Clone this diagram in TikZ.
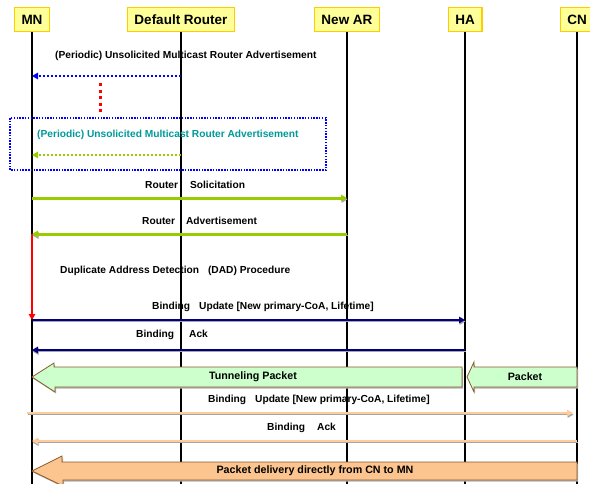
\documentclass[tikz,border=0pt]{standalone}
\usepackage{fontspec}
\setmainfont{Liberation Sans}
\usetikzlibrary{arrows.meta,shadows}
\definecolor{hdrfill}{HTML}{FFFF99}
\definecolor{hdrline}{HTML}{FFCC00}
\definecolor{ygreen}{HTML}{99CC00}
\definecolor{tealtxt}{HTML}{009999}
\definecolor{adblue}{HTML}{0000FF}
\definecolor{bunavy}{HTML}{000080}
\definecolor{peach}{HTML}{FFCC99}
\definecolor{bigpeach}{HTML}{FCC48E}
\definecolor{mint}{HTML}{CCFFCC}
\definecolor{brownline}{HTML}{8B5A2B}
\begin{document}
\begin{tikzpicture}[x=1pt,y=-1pt,
  hdr/.style={draw=hdrline,fill=hdrfill,line width=1.5pt,inner xsep=7pt,
    minimum height=24pt,font=\fontsize{13.5}{14}\selectfont\bfseries},
  life/.style={line width=2pt},
  msg/.style={anchor=west,inner sep=0pt,font=\fontsize{10.2}{11}\selectfont\bfseries},
  bigmsg/.style={inner sep=0pt,font=\fontsize{10.7}{12}\selectfont\bfseries},
  tip/.style={-{Triangle[length=6pt,width=6.5pt]}},
  shad/.style={preaction={draw=gray!70,transform canvas={shift={(0.5pt,-1.5pt)}}}},
  bigarrow/.style={draw=brownline,line width=0.8pt,
    drop shadow={shadow xshift=1pt,shadow yshift=-1.5pt,fill=gray!60,opacity=1}}]
\clip (0,0) rectangle (590,483);
\useasboundingbox (0,0) rectangle (590,483);

% headers and lifelines
\node[hdr] (mn)  at (32,19.5)  {MN};
\node[hdr] (dr)  at (181,19.5) {Default Router};
\node[hdr] (nar) at (347,19.5) {New AR};
\node[hdr] (ha)  at (465,19.5) {HA};
\node[hdr] (cn)  at (577,19.5) {CN};
\foreach \n in {mn,dr,nar,ha,cn}
  \draw[life] (\n.south) -- (\n |- 0,490);

% periodic advertisements
\node[msg] (ra1) at (55,56) {(Periodic) Unsolicited Multicast Router Advertisement};
\draw[adblue,line width=2.6pt,dash pattern=on 2.4pt off 1.6pt,tip] (dr |- 0,76) -- (mn |- 0,76);
\draw[red,line width=3pt,dash pattern=on 3pt off 3.5pt] (100,83) -- (100,113);
\draw[adblue,line width=1.5pt,dash pattern=on 1.5pt off 1.3pt] (10,118) rectangle (326,170);
\node[msg,text=tealtxt] (ra2) at (37,135) {(Periodic) Unsolicited Multicast Router Advertisement};
\draw[ygreen,line width=2.6pt,dash pattern=on 2.4pt off 1.6pt,tip] (dr |- 0,155) -- (mn |- 0,155);

% router discovery
\node[msg] (rs) at (145,185) {Router\hspace{12pt}Solicitation};
\draw[ygreen,line width=3pt,shad,tip] (mn |- 0,198) -- (nar |- 0,198);
\node[msg] (radv) at (142,221) {Router\hspace{11pt}Advertisement};
\draw[ygreen,line width=3pt,shad,tip] (nar |- 0,234) -- (mn |- 0,234);

% DAD
\draw[red,line width=1.8pt,tip] (mn |- 0,234) -- (mn |- 0,320);
\node[msg] (dad) at (60,271) {Duplicate Address Detection\hspace{9pt}(DAD) Procedure};

% binding with HA
\node[msg] (bu1) at (152,307) {Binding\hspace{9pt}Update [New primary-CoA, Lifetime]};
\draw[bunavy,line width=2.6pt,shad,tip] (mn |- 0,320) -- (ha |- 0,320);
\node[msg] (ba1) at (136,335) {Binding\hspace{15pt}Ack};
\draw[bunavy,line width=2.6pt,shad,tip] (ha |- 0,350) -- (mn |- 0,350);

% tunneled packets
\draw[bigarrow,fill=mint] (mn |- 0,377) -- ++(22,-14) -- ++(0,4) -- (462,367)
  -- (462,387) -- (55,387) -- (55,392) -- cycle;
\node[bigmsg] (tun) at (253,377) {Tunneling Packet};
\draw[bigarrow,fill=mint] (467,377) -- ++(7,-15) -- ++(0,5) -- (cn |- 0,367)
  -- (cn |- 0,387) -- (474,387) -- (474,392) -- cycle;
\node[bigmsg] (pkt) at (525,377) {Packet};

% binding with CN
\node[msg] (bu2) at (208,400) {Binding\hspace{9pt}Update [New primary-CoA, Lifetime]};
\draw[peach,line width=2.6pt,shad,tip] (27,413) -- (573,413);
\node[msg] (ba2) at (267,428) {Binding\hspace{12pt}Ack};
\draw[peach,line width=2.6pt,shad,tip] (cn |- 0,441) -- (mn |- 0,441);

% route optimised delivery
\draw[bigarrow,fill=bigpeach] (mn |- 0,471) -- ++(30,-15) -- ++(0,6) -- (cn |- 0,462)
  -- (cn |- 0,480) -- (63,480) -- (63,486) -- cycle;
\node[bigmsg] (direct) at (315,471) {Packet delivery directly from CN to MN};
\end{tikzpicture}
\end{document}
